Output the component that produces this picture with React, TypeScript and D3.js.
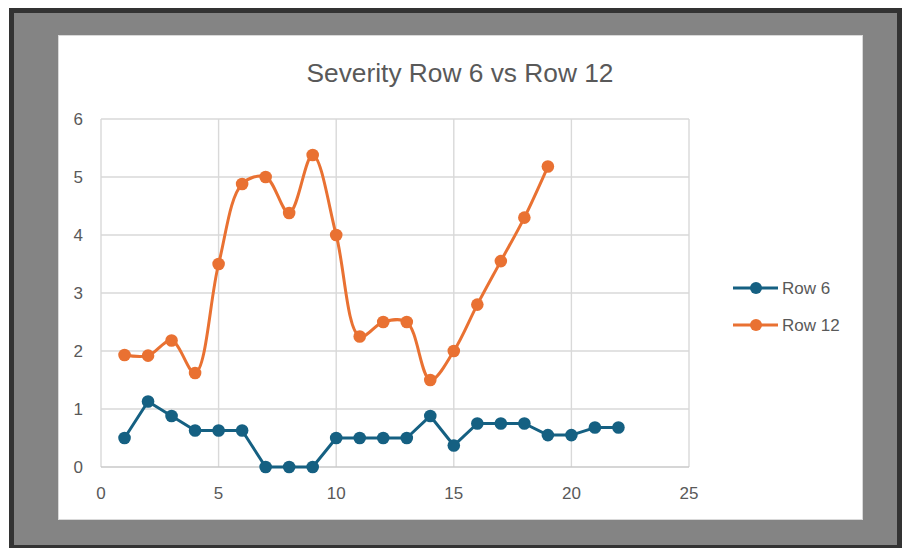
import React, { useEffect, useRef } from 'react';
import * as d3 from 'd3';

// values
const row6X = [1, 2, 3, 4, 5, 6, 7, 8, 9, 10, 11, 12, 13, 14, 15, 16, 17, 18, 19, 20, 21, 22];
const row6Y = [0.5, 1.13, 0.88, 0.63, 0.63, 0.63, 0, 0, 0, 0.5, 0.5, 0.5, 0.5, 0.88, 0.37, 0.75, 0.75, 0.75, 0.55, 0.55, 0.68, 0.68];
const row12X = [1, 2, 3, 4, 5, 6, 7, 8, 9, 10, 11, 12, 13, 14, 15, 16, 17, 18, 19];
const row12Y = [1.93, 1.92, 2.18, 1.62, 3.5, 4.88, 5.0, 4.38, 5.38, 4.0, 2.25, 2.5, 2.5, 1.5, 2.0, 2.8, 3.55, 4.3, 5.18];
const xTicks = [0, 5, 10, 15, 20, 25];
const yTicks = [0, 1, 2, 3, 4, 5, 6];
const seriesNames = ['Row 6', 'Row 12'];
const colors = ['#156082', '#E97132'];

const FONT = 'Liberation Sans, Arial, sans-serif';

function App() {
  const ref = useRef<SVGSVGElement | null>(null);

  useEffect(() => {
    const svg = d3.select(ref.current);
    svg.selectAll('*').remove();

    // outer frame
    svg.append('rect').attr('x', 9).attr('y', 8).attr('width', 900).attr('height', 545).attr('fill', '#333333');
    svg.append('rect').attr('x', 14).attr('y', 13).attr('width', 883).attr('height', 532).attr('fill', '#848484');
    svg.append('rect').attr('x', 58.5).attr('y', 35.5).attr('width', 804).attr('height', 484)
      .attr('fill', '#ffffff').attr('stroke', '#d9d9d9').attr('stroke-width', 1);

    const x = d3.scaleLinear().domain([0, 25]).range([101, 689]);
    const y = d3.scaleLinear().domain([0, 6]).range([467, 119]);

    const g = svg.append('g');

    // grid
    g.selectAll('.vgrid').data(xTicks).enter().append('line')
      .attr('x1', d => x(d)).attr('x2', d => x(d))
      .attr('y1', y(6)).attr('y2', y(0))
      .attr('stroke', '#d9d9d9').attr('stroke-width', 1.4);
    g.selectAll('.hgrid').data(yTicks).enter().append('line')
      .attr('x1', x(0)).attr('x2', x(25))
      .attr('y1', d => y(d)).attr('y2', d => y(d))
      .attr('stroke', d => d === 0 ? '#c8c8c8' : '#d9d9d9').attr('stroke-width', 1.4);

    // tick labels
    g.selectAll('.xlab').data(xTicks).enter().append('text')
      .attr('x', d => x(d)).attr('y', 499)
      .attr('text-anchor', 'middle')
      .attr('font-family', FONT).attr('font-size', 17).attr('fill', '#595959')
      .text(d => d);
    g.selectAll('.ylab').data(yTicks).enter().append('text')
      .attr('x', 83).attr('y', d => y(d) + 6)
      .attr('text-anchor', 'end')
      .attr('font-family', FONT).attr('font-size', 17).attr('fill', '#595959')
      .text(d => d);

    // title
    svg.append('text')
      .attr('x', 460).attr('y', 82)
      .attr('text-anchor', 'middle')
      .attr('font-family', FONT).attr('font-size', 26.3).attr('fill', '#595959')
      .text('Severity Row 6 vs Row 12');

    const row6 = row6X.map((v, i) => [v, row6Y[i]] as [number, number]);
    const row12 = row12X.map((v, i) => [v, row12Y[i]] as [number, number]);

    const straight = d3.line<[number, number]>().x(d => x(d[0])).y(d => y(d[1]));
    const smooth = d3.line<[number, number]>().x(d => x(d[0])).y(d => y(d[1])).curve(d3.curveCatmullRom.alpha(0.5));

    [row6, row12].forEach((pts, k) => {
      g.append('path').datum(pts)
        .attr('fill', 'none').attr('stroke', colors[k]).attr('stroke-width', 3)
        .attr('stroke-linejoin', 'round')
        .attr('d', k === 0 ? straight : smooth);
      g.selectAll('.dot' + k).data(pts).enter().append('circle')
        .attr('cx', d => x(d[0])).attr('cy', d => y(d[1]))
        .attr('r', 6.3).attr('fill', colors[k]);
    });

    // legend
    const legY = [288, 325];
    seriesNames.forEach((name, k) => {
      const lg = svg.append('g');
      lg.append('line').attr('x1', 733).attr('x2', 778).attr('y1', legY[k]).attr('y2', legY[k])
        .attr('stroke', colors[k]).attr('stroke-width', 3);
      lg.append('circle').attr('cx', 756).attr('cy', legY[k]).attr('r', 6).attr('fill', colors[k]);
      lg.append('text').attr('x', 782).attr('y', legY[k] + 6)
        .attr('font-family', FONT).attr('font-size', 17).attr('fill', '#595959')
        .text(name);
    });
  }, []);

  return (
    <svg ref={ref} width={902} height={548}
      style={{ position: 'absolute', left: 0, top: 0, background: '#ffffff' }} />
  );
}

export default App;
